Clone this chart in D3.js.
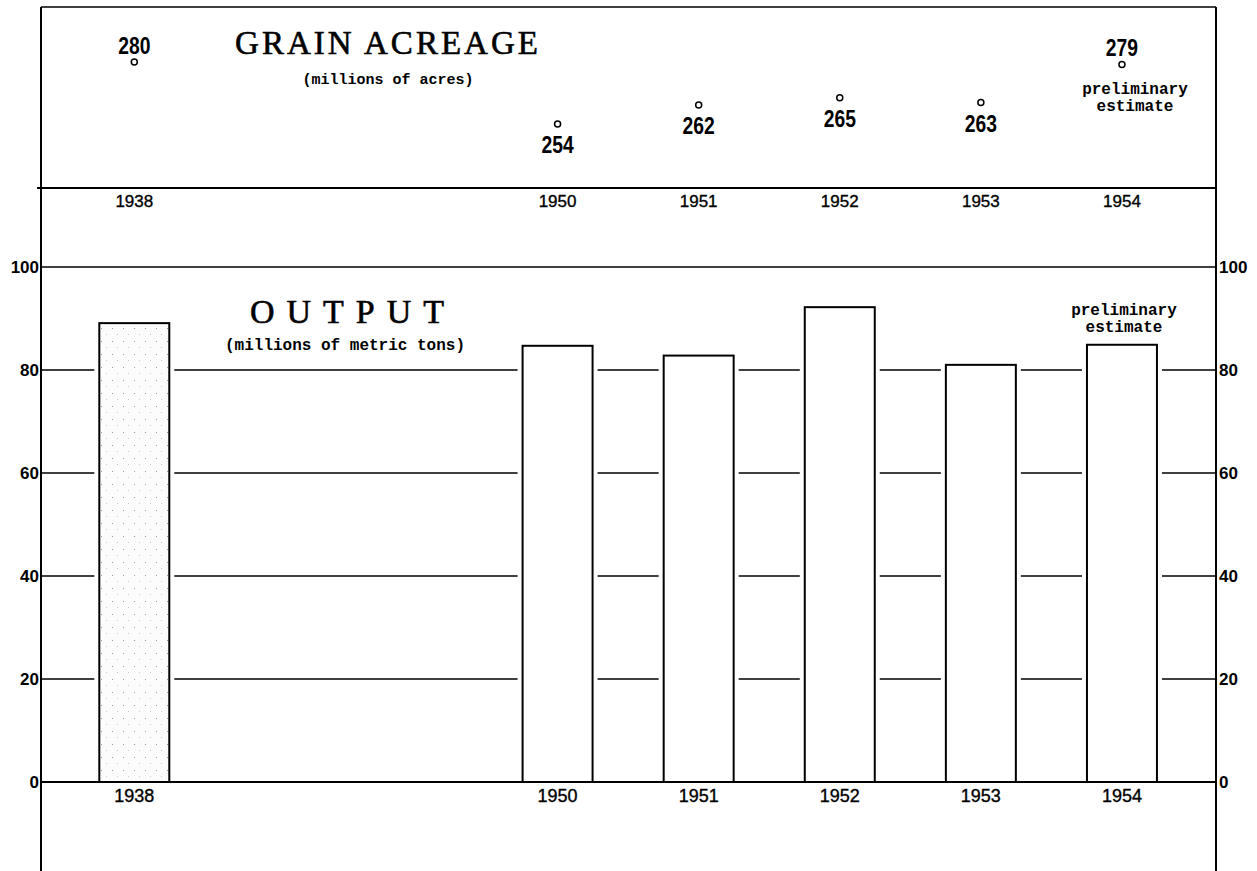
<!DOCTYPE html>
<html>
<head>
<meta charset="utf-8">
<script src="https://cdn.jsdelivr.net/npm/d3@7"></script>
<style>
    html, body { margin: 0; padding: 0; background: #fff; }
    svg { display: block; }
</style>
</head>
<body>
<svg width="1257" height="871"></svg>
<script>
// data
const years = ['1938', '1950', '1951', '1952', '1953', '1954']
const slots = ['1938', 'gap-a', 'gap-b', '1950', '1951', '1952', '1953', '1954']
const acreage = [280, 254, 262, 265, 263, 279]
const output = [89.1, 84.7, 82.8, 92.2, 81.0, 84.9]
const outputTicks = [0, 20, 40, 60, 80, 100]
const gridTicks = [20, 40, 60, 80]

const svg = d3.select('svg')

const left = 41
const right = 1216

const x = d3.scaleBand()
    .domain(slots)
    .range([63.75, 1192.5])
    .paddingInner(0.504)
    .paddingOuter(0.252)

const cx = d => x(d) + x.bandwidth() / 2

const yOut = d3.scaleLinear()
    .domain([0, 100])
    .range([782, 267])

const yAcre = d3.scaleLinear()
    .domain([254, 280])
    .range([124, 62])

const data = years.map((year, i) => ({ year, acres: acreage[i], tons: output[i] }))

const serif = 'Liberation Serif, Times New Roman, serif'
const mono = 'Liberation Mono, Courier New, monospace'
const sans = 'Liberation Sans, Arial, sans-serif'

// sparse specks for the 1938 bar
const defs = svg.append('defs')
const pat = defs.append('pattern')
        .attr('id', 'stipple')
        .attr('patternUnits', 'userSpaceOnUse')
        .attr('width', 11)
        .attr('height', 13)
pat.append('rect')
        .attr('width', 11)
        .attr('height', 13)
        .attr('fill', '#fcfcfc')
pat.append('rect')
        .attr('x', 2).attr('y', 3)
        .attr('width', 1).attr('height', 1)
        .attr('fill', '#9a9a9a')
pat.append('rect')
        .attr('x', 7).attr('y', 9)
        .attr('width', 1).attr('height', 1)
        .attr('fill', '#c8c8c8')

// frame
svg.append('line')
        .attr('x1', left).attr('x2', right)
        .attr('y1', 7).attr('y2', 7)
        .attr('stroke', 'black')
        .attr('stroke-width', 1.5)

svg.append('line')
        .attr('x1', left).attr('x2', left)
        .attr('y1', 7).attr('y2', 871)
        .attr('stroke', 'black')
        .attr('stroke-width', 2)

svg.append('line')
        .attr('x1', right).attr('x2', right)
        .attr('y1', 7).attr('y2', 871)
        .attr('stroke', 'black')
        .attr('stroke-width', 2)

// ---- top panel: grain acreage ----
svg.append('line')
        .attr('x1', 37).attr('x2', right)
        .attr('y1', 188).attr('y2', 188)
        .attr('stroke', 'black')
        .attr('stroke-width', 2)

svg.append('text')
        .attr('x', 388)
        .attr('y', 54)
        .attr('text-anchor', 'middle')
        .attr('font-family', serif)
        .attr('font-size', 33)
        .attr('letter-spacing', 3)
        .attr('stroke', 'black')
        .attr('stroke-width', 0.6)
        .text('GRAIN ACREAGE')

svg.append('text')
        .attr('x', 388)
        .attr('y', 84)
        .attr('text-anchor', 'middle')
        .attr('font-family', mono)
        .attr('font-weight', 'bold')
        .attr('font-size', 15)
        .text('(millions of acres)')

svg.append('g')
    .selectAll('circle')
    .data(data)
    .join('circle')
        .attr('cx', d => cx(d.year))
        .attr('cy', d => yAcre(d.acres))
        .attr('r', 3)
        .attr('fill', 'white')
        .attr('stroke', 'black')
        .attr('stroke-width', 1.5)

// condensed bold numerals
svg.append('g')
    .selectAll('text')
    .data(data)
    .join('text')
        .attr('transform', d => {
            const cy = yAcre(d.acres)
            const ty = cy < 80 ? cy - 8 : cy + 29
            return `translate(${cx(d.year)},${ty}) scale(0.84,1)`
        })
        .attr('text-anchor', 'middle')
        .attr('font-family', sans)
        .attr('font-weight', 'bold')
        .attr('font-size', 23)
        .text(d => d.acres)

svg.append('g')
    .selectAll('text')
    .data(years)
    .join('text')
        .attr('x', d => cx(d))
        .attr('y', 207)
        .attr('text-anchor', 'middle')
        .attr('font-family', sans)
        .attr('font-size', 17)
        .attr('stroke', 'black')
        .attr('stroke-width', 0.35)
        .text(d => d)

const lastYear = years[years.length - 1]
const lastAcre = yAcre(acreage[acreage.length - 1])
const noteTop = svg.append('text')
        .attr('y', lastAcre + 30)
        .attr('text-anchor', 'middle')
        .attr('font-family', mono)
        .attr('font-weight', 'bold')
        .attr('font-size', 16)
noteTop.append('tspan').attr('x', cx(lastYear) + 13).text('preliminary')
noteTop.append('tspan').attr('x', cx(lastYear) + 13).attr('dy', 17).text('estimate')

// ---- bottom panel: output ----
svg.append('line')
        .attr('x1', left).attr('x2', right)
        .attr('y1', yOut(100)).attr('y2', yOut(100))
        .attr('stroke', 'black')
        .attr('stroke-width', 1.5)

// grid segments that stop short of each bar
const gap = 5
const edges = [[left, left]].concat(years.map(y => [x(y), x(y) + x.bandwidth()]), [[right, right]])
const segments = []
for (let i = 0; i < edges.length - 1; i++) {
    const x1 = i === 0 ? left : edges[i][1] + gap
    const x2 = i === edges.length - 2 ? right : edges[i + 1][0] - gap
    gridTicks.forEach(t => segments.push({ x1, x2, t }))
}

svg.append('g')
    .selectAll('line')
    .data(segments)
    .join('line')
        .attr('x1', d => d.x1)
        .attr('x2', d => d.x2)
        .attr('y1', d => yOut(d.t))
        .attr('y2', d => yOut(d.t))
        .attr('stroke', 'black')
        .attr('stroke-width', 1.3)

svg.append('text')
        .attr('x', 353)
        .attr('y', 323)
        .attr('text-anchor', 'middle')
        .attr('font-family', serif)
        .attr('font-size', 34)
        .attr('letter-spacing', 12)
        .attr('stroke', 'black')
        .attr('stroke-width', 0.6)
        .text('OUTPUT')

svg.append('text')
        .attr('x', 345)
        .attr('y', 350)
        .attr('text-anchor', 'middle')
        .attr('font-family', mono)
        .attr('font-weight', 'bold')
        .attr('font-size', 16)
        .text('(millions of metric tons)')

svg.append('g')
    .selectAll('rect')
    .data(data)
    .join('rect')
        .attr('x', d => x(d.year))
        .attr('y', d => yOut(d.tons))
        .attr('width', x.bandwidth())
        .attr('height', d => yOut(0) - yOut(d.tons))
        .attr('fill', (d, i) => i === 0 ? 'url(#stipple)' : 'white')
        .attr('stroke', 'black')
        .attr('stroke-width', 2)

const lastTop = yOut(output[output.length - 1])
const noteBottom = svg.append('text')
        .attr('y', lastTop - 30)
        .attr('text-anchor', 'middle')
        .attr('font-family', mono)
        .attr('font-weight', 'bold')
        .attr('font-size', 16)
noteBottom.append('tspan').attr('x', cx(lastYear) + 2).text('preliminary')
noteBottom.append('tspan').attr('x', cx(lastYear) + 2).attr('dy', 17).text('estimate')

// baseline
svg.append('line')
        .attr('x1', left).attr('x2', right)
        .attr('y1', yOut(0)).attr('y2', yOut(0))
        .attr('stroke', 'black')
        .attr('stroke-width', 2)

svg.append('g')
    .selectAll('text')
    .data(years)
    .join('text')
        .attr('x', d => cx(d))
        .attr('y', 802)
        .attr('text-anchor', 'middle')
        .attr('font-family', sans)
        .attr('font-size', 18)
        .attr('stroke', 'black')
        .attr('stroke-width', 0.35)
        .text(d => d)

// axes, labels only
svg.append('g')
        .attr('transform', `translate(${left},0)`)
        .call(d3.axisLeft(yOut).tickValues(outputTicks).tickSize(0).tickPadding(2))
svg.append('g')
        .attr('transform', `translate(${right},0)`)
        .call(d3.axisRight(yOut).tickValues(outputTicks).tickSize(0).tickPadding(3))

svg.selectAll('.domain').remove()
svg.selectAll('.tick text')
        .attr('font-family', sans)
        .attr('font-weight', 'bold')
        .attr('font-size', 17)
        .attr('fill', 'black')
</script>
</body>
</html>
